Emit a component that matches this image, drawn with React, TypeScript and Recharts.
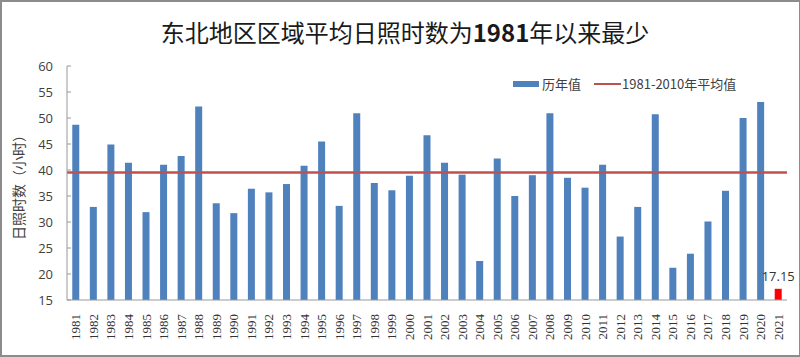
import React from 'react';
import {
  BarChart,
  Bar,
  Cell,
  XAxis,
  YAxis,
  ReferenceLine,
  LabelList,
} from 'recharts';

const years: string[] = [
  '1981', '1982', '1983', '1984', '1985', '1986', '1987', '1988', '1989', '1990',
  '1991', '1992', '1993', '1994', '1995', '1996', '1997', '1998', '1999', '2000',
  '2001', '2002', '2003', '2004', '2005', '2006', '2007', '2008', '2009', '2010',
  '2011', '2012', '2013', '2014', '2015', '2016', '2017', '2018', '2019', '2020',
  '2021',
];

// 历年值（小时）
const sunshineHours: number[] = [
  48.7, 32.9, 44.9, 41.4, 31.9, 41.0, 42.7, 52.2, 33.6, 31.7,
  36.4, 35.7, 37.3, 40.8, 45.5, 33.1, 50.9, 37.5, 36.1, 38.9,
  46.7, 41.4, 39.1, 22.5, 42.2, 35.0, 39.0, 50.9, 38.5, 36.6,
  41.0, 27.2, 32.9, 50.7, 21.2, 23.9, 30.1, 36.0, 50.0, 53.1,
  17.15,
];

const averageValue = 39.5; // 1981-2010年平均值
const yTicks: number[] = [15, 20, 25, 30, 35, 40, 45, 50, 55, 60];

const data = years.map((y, i) => ({ year: y, value: sunshineHours[i] }));

const BLUE = '#4f81bd';
const RED_BAR = '#ff0000';
const RED_LINE = '#c0504d';
const TEXT = '#404040';

const XTick = ({ x, y, payload }: any) => (
  <g transform={`translate(${x},${y + 6})`}>
    <text
      transform="rotate(-90)"
      textAnchor="end"
      dominantBaseline="central"
      fontSize={13}
      fontFamily="'Liberation Serif', serif"
      fill="#333"
    >
      {payload.value}
    </text>
  </g>
);

const YTick = ({ x, y, payload }: any) => (
  <g>
    {/* 刻度线朝内 */}
    <line x1={x + 8} x2={x + 12} y1={y} y2={y} stroke="#999" strokeWidth={1} />
    <text
      x={x - 6}
      y={y}
      textAnchor="end"
      dominantBaseline="central"
      fontSize={13}
      fontFamily="'Open Sans', sans-serif"
      fill={TEXT}
    >
      {payload.value}
    </text>
  </g>
);

const LastLabel = ({ x, y, width, index, value }: any) => {
  if (index !== years.length - 1) return null;
  return (
    <text
      x={x + width / 2}
      y={y - 8}
      textAnchor="middle"
      fontSize={13}
      fontFamily="'Open Sans', sans-serif"
      fill="#333"
    >
      {value}
    </text>
  );
};

export default function App() {
  return (
    <div
      style={{
        position: 'absolute',
        left: 0,
        top: 0,
        width: 800,
        height: 357,
        background: '#fff',
        fontFamily: "'Noto Sans CJK SC', sans-serif",
      }}
    >
      {/* 外框 */}
      <div
        style={{
          position: 'absolute',
          left: 0,
          top: 0,
          width: 797,
          height: 353,
          border: '2px solid #8c8c8c',
          boxSizing: 'content-box',
          pointerEvents: 'none',
        }}
      />

      {/* 标题 */}
      <div
        style={{
          position: 'absolute',
          left: 0,
          width: 810,
          top: 14,
          textAlign: 'center',
          fontSize: 24,
          color: '#1a1a1a',
          lineHeight: '36px',
        }}
      >
        东北地区区域平均日照时数为<b>1981</b>年以来最少
      </div>

      {/* 图例 */}
      <div
        style={{
          position: 'absolute',
          left: 513,
          top: 74,
          display: 'flex',
          alignItems: 'center',
          fontSize: 13,
          color: TEXT,
          lineHeight: '20px',
        }}
      >
        <span style={{ width: 26, height: 6, background: BLUE, display: 'inline-block' }} />
        <span style={{ marginLeft: 3 }}>历年值</span>
        <span
          style={{
            marginLeft: 13,
            width: 27,
            height: 2,
            background: RED_LINE,
            display: 'inline-block',
          }}
        />
        <span style={{ marginLeft: 1 }}>1981-2010年平均值</span>
      </div>

      <BarChart
        width={800}
        height={357}
        data={data}
        margin={{ top: 66, right: 13, left: 0, bottom: 0 }}
        barCategoryGap="30%"
      >
        <XAxis
          dataKey="year"
          interval={0}
          height={57}
          tick={<XTick />}
          tickLine={false}
          axisLine={{ stroke: '#999' }}
        />
        <YAxis
          domain={[15, 60]}
          ticks={yTicks}
          allowDataOverflow
          width={67}
          tick={<YTick />}
          tickLine={false}
          axisLine={{ stroke: '#999' }}
          label={{
            content: () => (
              <text
                transform="translate(18,184) rotate(-90)"
                textAnchor="middle"
                dominantBaseline="central"
                fontSize={14}
                fontFamily="'Noto Sans CJK SC', sans-serif"
                fill={TEXT}
              >
                日照时数（小时）
              </text>
            ),
          }}
        />
        <Bar dataKey="value" isAnimationActive={false}>
          {data.map((d, i) => (
            <Cell key={d.year} fill={i === data.length - 1 ? RED_BAR : BLUE} />
          ))}
          <LabelList dataKey="value" content={<LastLabel />} />
        </Bar>
        <ReferenceLine y={averageValue} stroke={RED_LINE} strokeWidth={2.5} />
      </BarChart>
    </div>
  );
}
